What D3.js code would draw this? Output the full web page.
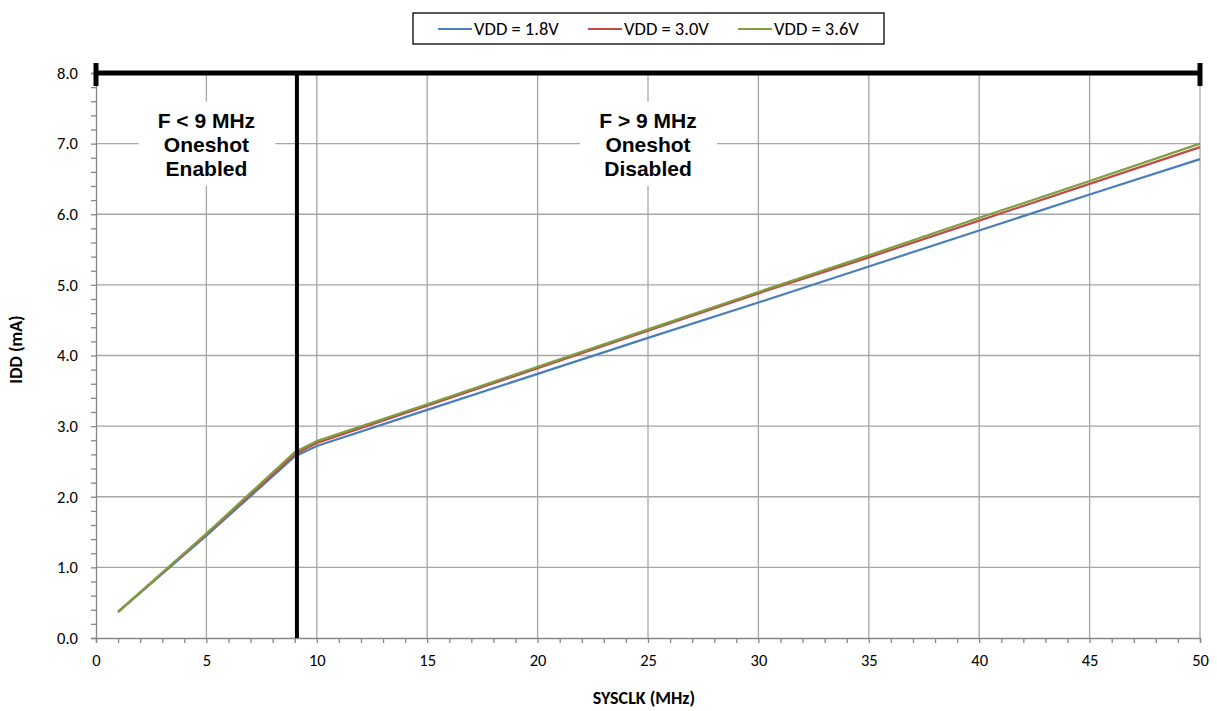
<!DOCTYPE html>
<html>
<head>
<meta charset="utf-8">
<script src="https://cdn.jsdelivr.net/npm/d3@7"></script>
<style>
  body { margin: 0; background: #fff; }
  svg { display: block; }
</style>
</head>
<body>
<div id="chart"></div>
<script>
// data
const freq = [1, 5, 9, 10, 15, 20, 25, 30, 35, 40, 45, 50]
const idd18 = [0.37, 1.45, 2.57, 2.72, 3.23, 3.74, 4.25, 4.75, 5.26, 5.77, 6.28, 6.78]
const idd30 = [0.37, 1.47, 2.60, 2.76, 3.29, 3.82, 4.35, 4.88, 5.39, 5.91, 6.43, 6.95]
const idd36 = [0.37, 1.48, 2.63, 2.79, 3.31, 3.84, 4.37, 4.90, 5.42, 5.95, 6.47, 7.00]
const seriesNames = ['VDD = 1.8V', 'VDD = 3.0V', 'VDD = 3.6V']
const seriesColors = ['#4a7ebb', '#be4b48', '#7f9f3e']
const xTicks = [0, 5, 10, 15, 20, 25, 30, 35, 40, 45, 50]
const yTicks = [0, 1, 2, 3, 4, 5, 6, 7, 8]
const boundary = 9.1
const regionLabels = [
    { x: 5, lines: ['F < 9 MHz', 'Oneshot', 'Enabled'] },
    { x: 25, lines: ['F > 9 MHz', 'Oneshot', 'Disabled'] }
]

const W = 1217, H = 711
const margin = { top: 73, right: 17, bottom: 73, left: 96 }
const width = W - margin.left - margin.right
const height = H - margin.top - margin.bottom
const labelFont = 'Carlito, Lato, sans-serif'

const series = [idd18, idd30, idd36].map((vals, i) => ({
    name: seriesNames[i],
    color: seriesColors[i],
    values: vals.map((v, j) => ({ x: freq[j], y: v }))
}))

// Scales.
const xScale = d3.scaleLinear().domain([0, 50]).range([0, width])
const yScale = d3.scaleLinear().domain([0, 8]).range([height, 0])

const root = d3.select('#chart').append('svg')
    .attr('width', W)
    .attr('height', H)

const svg = root.append('g')
    .attr('transform', `translate(${margin.left}, ${margin.top})`)

// Gridlines.
svg.append('g')
    .selectAll('line')
    .data(xTicks.filter(d => d > 0))
    .join('line')
    .attr('x1', d => xScale(d)).attr('x2', d => xScale(d))
    .attr('y1', 0).attr('y2', height)
    .attr('stroke', '#a6a6a6').attr('stroke-width', 1.3)

svg.append('g')
    .selectAll('line')
    .data(yTicks.filter(d => d > 0))
    .join('line')
    .attr('x1', 0).attr('x2', width)
    .attr('y1', d => yScale(d)).attr('y2', d => yScale(d))
    .attr('stroke', '#a6a6a6').attr('stroke-width', 1.3)

// Axes.
const axisColor = '#868686'
const xAxis = svg.append('g')
    .attr('transform', `translate(0, ${height})`)
    .call(d3.axisBottom(xScale).tickValues(d3.range(0, 51, 1)).tickSize(5).tickFormat(''))
const xLabels = svg.append('g')
    .attr('transform', `translate(0, ${height})`)
    .call(d3.axisBottom(xScale).tickValues(xTicks).tickSize(0).tickPadding(16).tickFormat(d3.format('d')))
const yAxis = svg.append('g')
    .call(d3.axisLeft(yScale).tickValues(d3.range(0, 8.01, 0.2)).tickSize(5).tickFormat(''))
const yLabels = svg.append('g')
    .call(d3.axisLeft(yScale).tickValues(yTicks).tickSize(0).tickPadding(18).tickFormat(d3.format('.1f')))

for (const ax of [xAxis, yAxis, xLabels, yLabels]) {
    ax.selectAll('path, line').attr('stroke', axisColor).attr('stroke-width', 1.3)
    ax.selectAll('text')
        .attr('fill', '#000')
        .style('font-family', labelFont)
        .style('font-size', '16.5px')
}
xLabels.select('.domain').remove()
yLabels.select('.domain').remove()

// Series lines.
const line = d3.line().x(d => xScale(d.x)).y(d => yScale(d.y))
svg.append('g')
    .selectAll('path')
    .data(series)
    .join('path')
    .attr('d', d => line(d.values))
    .attr('fill', 'none')
    .attr('stroke', d => d.color)
    .attr('stroke-width', 2.2)

// Region annotations (white boxes behind text).
const ann = svg.append('g')
regionLabels.forEach(r => {
    const cx = xScale(r.x)
    const top = yScale(7) - 42
    ann.append('rect')
        .attr('x', cx - 68).attr('y', top)
        .attr('width', 137).attr('height', 84)
        .attr('fill', '#fff')
    ann.append('text')
        .attr('x', cx)
        .attr('text-anchor', 'middle')
        .style('font-family', 'Liberation Sans, Arial, sans-serif')
        .style('font-weight', 'bold')
        .style('font-size', '21px')
        .selectAll('tspan')
        .data(r.lines)
        .join('tspan')
        .attr('x', cx)
        .attr('y', (d, i) => yScale(7) - 16 + i * 24)
        .text(d => d)
})

// Boundary markers.
svg.append('line')
    .attr('x1', xScale(boundary)).attr('x2', xScale(boundary))
    .attr('y1', yScale(8)).attr('y2', yScale(0))
    .attr('stroke', '#000').attr('stroke-width', 4)
svg.append('line')
    .attr('x1', xScale(0)).attr('x2', xScale(50))
    .attr('y1', yScale(8)).attr('y2', yScale(8))
    .attr('stroke', '#000').attr('stroke-width', 5)
svg.append('g')
    .selectAll('line')
    .data([0, 50])
    .join('line')
    .attr('x1', d => xScale(d)).attr('x2', d => xScale(d))
    .attr('y1', yScale(8) - 10).attr('y2', yScale(8) + 13)
    .attr('stroke', '#000').attr('stroke-width', 5)

// Axis titles.
svg.append('text')
    .attr('x', width / 2 - 4)
    .attr('y', height + 66)
    .attr('text-anchor', 'middle')
    .style('font-family', labelFont)
    .style('font-weight', 'bold')
    .style('font-size', '18px')
    .text('SYSCLK (MHz)')
svg.append('text')
    .attr('transform', `translate(${-74}, ${height / 2 - 6}) rotate(-90)`)
    .attr('text-anchor', 'middle')
    .style('font-family', labelFont)
    .style('font-weight', 'bold')
    .style('font-size', '18px')
    .text('IDD (mA)')

// Legend.
const legend = root.append('g').attr('transform', 'translate(413, 13)')
legend.append('rect')
    .attr('width', 471).attr('height', 31)
    .attr('fill', '#fff').attr('stroke', '#000').attr('stroke-width', 1.3)
const item = legend.selectAll('g')
    .data(series)
    .join('g')
    .attr('transform', (d, i) => `translate(${25 + i * 150}, 16)`)
item.append('line')
    .attr('x1', 0).attr('x2', 34)
    .attr('stroke', d => d.color).attr('stroke-width', 2.2)
item.append('text')
    .attr('x', 36).attr('y', 6)
    .style('font-family', labelFont)
    .style('font-size', '18.5px')
    .text(d => d.name)
</script>
</body>
</html>
